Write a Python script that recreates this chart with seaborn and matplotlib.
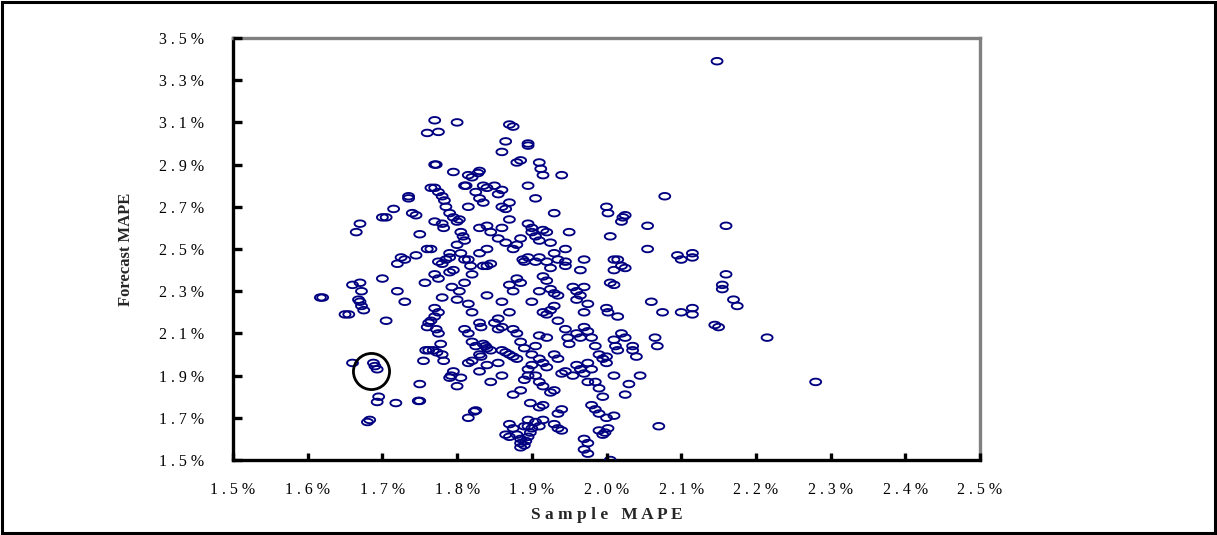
import numpy as np
import pandas as pd
import matplotlib
matplotlib.use("Agg")
import matplotlib.pyplot as plt
from matplotlib.path import Path
from matplotlib.patches import Rectangle
import seaborn as sns

# Sample MAPE (%) vs. Forecast MAPE (%) for each model run
sample_mape = [
    1.617, 1.620, 1.650, 1.655, 1.660, 1.665, 1.670, 1.670, 1.668, 1.670, 1.672, 1.675, 1.672,
    1.660, 1.688, 1.690, 1.693, 1.695, 1.693, 1.680, 1.683,
    1.700, 1.705, 1.700, 1.705, 1.715, 1.720, 1.725, 1.730, 1.735, 1.735, 1.740, 1.745, 1.730,
    1.720, 1.718, 1.745, 1.750, 1.750, 1.748, 1.750,
    1.755, 1.758, 1.762, 1.768, 1.773, 1.760, 1.762, 1.765, 1.770, 1.772, 1.775, 1.778, 1.780,
    1.782, 1.770, 1.775, 1.780, 1.757, 1.760, 1.765, 1.770, 1.775, 1.775, 1.780, 1.785, 1.790,
    1.790, 1.782, 1.780, 1.770, 1.765, 1.770, 1.775, 1.780, 1.783, 1.785, 1.790, 1.795, 1.770,
    1.772, 1.770, 1.760, 1.775, 1.800, 1.795, 1.790, 1.795, 1.793, 1.792, 1.790, 1.795,
    1.800, 1.803, 1.805, 1.808, 1.810, 1.800, 1.805, 1.810, 1.815, 1.818, 1.820, 1.810, 1.800,
    1.803, 1.810, 1.812, 1.815, 1.820, 1.828, 1.830, 1.835, 1.840, 1.830, 1.835, 1.825, 1.815,
    1.830, 1.840, 1.845, 1.840, 1.830, 1.835, 1.840, 1.845, 1.820, 1.810, 1.815, 1.820, 1.825,
    1.830, 1.832, 1.835, 1.838, 1.840, 1.845, 1.830, 1.832, 1.815, 1.820, 1.840, 1.845, 1.830,
    1.815, 1.823, 1.825, 1.805, 1.800, 1.815, 1.840,
    1.860, 1.870, 1.875, 1.865, 1.880, 1.885, 1.895, 1.895, 1.895, 1.870, 1.860, 1.865, 1.855,
    1.860, 1.850, 1.870, 1.860, 1.855, 1.865, 1.875, 1.880, 1.885, 1.888, 1.890, 1.895, 1.900,
    1.895, 1.900, 1.880, 1.885, 1.875, 1.870, 1.860, 1.855, 1.850, 1.855, 1.860, 1.870, 1.875,
    1.880, 1.885, 1.890, 1.860, 1.865, 1.870, 1.875, 1.880, 1.855, 1.860, 1.875, 1.885, 1.890,
    1.895, 1.895, 1.900, 1.900, 1.870, 1.875, 1.880, 1.885, 1.885, 1.885, 1.890, 1.892, 1.895,
    1.898, 1.900, 1.895, 1.898, 1.870, 1.865, 1.895, 1.890,
    1.905, 1.910, 1.912, 1.915, 1.930, 1.940, 1.905, 1.910, 1.915, 1.920, 1.925, 1.910, 1.905,
    1.920, 1.925, 1.930, 1.935, 1.915, 1.920, 1.925, 1.930, 1.935, 1.910, 1.900, 1.915, 1.920,
    1.925, 1.930, 1.935, 1.945, 1.910, 1.920, 1.905, 1.910, 1.915, 1.920, 1.930, 1.935, 1.940,
    1.945, 1.905, 1.910, 1.915, 1.925, 1.930, 1.910, 1.915, 1.935, 1.940, 1.905, 1.910, 1.915,
    1.930, 1.935, 1.940, 1.945, 1.945, 1.950, 1.945, 1.950, 1.948,
    1.955, 1.960, 1.965, 1.970, 1.975, 1.970, 1.960, 1.965, 1.970, 1.975, 1.980, 1.985, 1.990,
    1.995, 1.960, 1.965, 1.970, 1.975, 1.980, 1.985, 1.990, 1.975, 1.980, 1.985, 1.990, 1.995,
    1.970, 1.975, 1.970, 1.975, 1.990, 1.995, 1.965, 1.970, 1.960, 1.955,
    2.000, 2.002, 2.005, 2.010, 2.010, 2.015, 2.005, 2.010, 2.020, 2.025, 2.020, 2.022, 2.025,
    2.000, 2.002, 2.015, 2.020, 2.025, 2.010, 2.012, 2.015, 2.035, 2.035, 2.040, 2.000, 2.010,
    2.030, 2.045, 2.025, 2.000, 2.010, 2.002, 1.998, 2.005, 2.000,
    2.055, 2.055, 2.060, 2.065, 2.068, 2.070, 2.075, 2.078, 2.095, 2.100, 2.100, 2.115, 2.115,
    2.115, 2.115, 2.145, 2.150, 2.155, 2.155, 2.160, 2.160, 2.170, 2.175, 2.215, 2.280, 2.148,
]
forecast_mape = [
    2.27, 2.27, 2.19, 2.19, 2.33, 2.58, 2.62, 2.34, 2.26, 2.25, 2.23, 2.21, 2.30,
    1.96, 1.96, 1.945, 1.93, 1.80, 1.775, 1.68, 1.69,
    2.36, 2.16, 2.65, 2.65, 2.69, 2.43, 2.46, 2.45, 2.75, 2.74, 2.67, 2.66, 2.25,
    2.30, 1.77, 2.47, 2.57, 1.86, 1.78, 1.78,
    1.97, 2.02, 2.02, 2.02, 2.01, 2.13, 2.15, 2.16, 2.18, 2.12, 2.10, 2.05, 2.00,
    1.97, 2.22, 2.20, 2.27, 2.34, 2.50, 2.50, 2.38, 2.36, 2.44, 2.43, 2.45, 2.48,
    2.46, 2.60, 2.62, 2.63, 2.79, 2.79, 2.77, 2.75, 2.73, 2.70, 2.67, 2.65, 2.90,
    2.90, 3.11, 3.05, 3.055, 3.10, 2.865, 2.39, 2.40, 2.32, 1.90, 1.89, 1.92,
    2.63, 2.64, 2.58, 2.56, 2.54, 2.52, 2.48, 2.45, 2.45, 2.42, 2.38, 2.34, 2.26,
    2.30, 2.80, 2.80, 2.85, 2.84, 2.86, 2.87, 2.80, 2.79, 2.74, 2.72, 2.77, 2.70,
    2.60, 2.61, 2.58, 2.50, 2.48, 2.42, 2.42, 2.43, 2.20, 2.12, 2.10, 2.06, 2.04,
    2.15, 2.13, 2.05, 2.04, 2.03, 2.02, 2.00, 1.99, 1.96, 1.97, 1.95, 1.87, 1.92,
    1.70, 1.73, 1.735, 1.89, 1.85, 2.24, 2.28,
    2.96, 3.09, 3.08, 3.01, 2.91, 2.92, 3.00, 2.99, 2.80, 2.72, 2.70, 2.69, 2.76,
    2.78, 2.80, 2.64, 2.60, 2.55, 2.53, 2.50, 2.52, 2.55, 2.45, 2.44, 2.46, 2.60,
    2.62, 2.58, 2.36, 2.34, 2.30, 2.33, 2.25, 2.17, 2.15, 2.12, 2.13, 2.20, 2.12,
    2.10, 2.06, 2.03, 2.02, 2.01, 2.00, 1.99, 1.98, 1.96, 1.90, 1.81, 1.83, 1.88,
    1.90, 1.93, 1.95, 2.00, 1.67, 1.65, 1.62, 1.60, 1.58, 1.56, 1.57, 1.59, 1.61,
    1.63, 1.65, 1.69, 1.77, 1.61, 1.62, 1.66, 1.66,
    2.74, 2.91, 2.88, 2.85, 2.67, 2.85, 2.56, 2.54, 2.59, 2.58, 2.53, 2.46, 2.44,
    2.44, 2.41, 2.48, 2.45, 2.37, 2.35, 2.31, 2.29, 2.28, 2.30, 2.25, 2.20, 2.19,
    2.21, 2.23, 2.16, 2.12, 2.09, 2.08, 2.04, 1.98, 1.96, 1.94, 2.00, 1.98, 1.91,
    1.92, 1.90, 1.87, 1.85, 1.82, 1.83, 1.75, 1.76, 1.72, 1.74, 1.68, 1.66, 1.69,
    1.67, 1.65, 1.64, 2.44, 2.50, 2.58, 2.42, 2.05, 2.08,
    2.32, 2.30, 2.28, 2.32, 2.24, 2.20, 2.10, 2.08, 2.13, 2.11, 2.08, 2.04, 2.00,
    1.98, 1.95, 1.93, 1.91, 1.96, 1.93, 1.87, 1.84, 1.87, 1.76, 1.74, 1.72, 1.80,
    1.60, 1.58, 1.55, 1.53, 1.64, 1.62, 2.40, 2.45, 2.26, 1.90,
    2.70, 2.67, 2.56, 2.45, 2.40, 2.45, 2.34, 2.33, 2.42, 2.41, 2.63, 2.65, 2.66,
    2.22, 2.20, 2.18, 2.10, 2.08, 2.07, 2.04, 2.02, 2.04, 2.02, 1.99, 1.99, 1.90,
    1.86, 1.90, 1.81, 1.70, 1.71, 1.65, 1.63, 1.50, 1.96,
    2.61, 2.50, 2.25, 2.08, 2.04, 1.66, 2.20, 2.75, 2.47, 2.45, 2.20, 2.48, 2.46,
    2.22, 2.19, 2.14, 2.13, 2.33, 2.31, 2.38, 2.61, 2.26, 2.23, 2.08, 1.87, 3.39,
]

# Highlighted run
highlight_x = [1.685]
highlight_y = [1.922]

x_ticks = [1.5, 1.6, 1.7, 1.8, 1.9, 2.0, 2.1, 2.2, 2.3, 2.4, 2.5]
y_ticks = [1.5, 1.7, 1.9, 2.1, 2.3, 2.5, 2.7, 2.9, 3.1, 3.3, 3.5]

df = pd.DataFrame({"Sample MAPE": sample_mape, "Forecast MAPE": forecast_mape})

sns.set_style("white")
plt.rcParams["font.family"] = ["Liberation Serif", "DejaVu Serif"]

fig = plt.figure(figsize=(12.17, 5.35), dpi=100)
ax = fig.add_axes([233 / 1217, 75 / 535, 747 / 1217, 422 / 535])

# Flattened ellipse marker
theta = np.linspace(0, 2 * np.pi, 60)
ellipse = Path(np.column_stack([np.cos(theta), 0.6 * np.sin(theta)]), closed=True)

sns.scatterplot(data=df, x="Sample MAPE", y="Forecast MAPE", ax=ax,
                marker=ellipse, s=62, facecolor="none", edgecolor="#000080",
                linewidth=1.35, legend=False, zorder=3)

ax.plot(highlight_x, highlight_y, marker="o", markersize=26, markerfacecolor="none",
        markeredgecolor="black", markeredgewidth=2.0, linestyle="none", zorder=4)

ax.set_xlim(1.5, 2.5)
ax.set_ylim(1.5, 3.5)
ax.set_xticks(x_ticks)
ax.set_yticks(y_ticks)


def spaced(v):
    return " ".join(f"{v:.1f}%")


ax.set_xticklabels([spaced(v) for v in x_ticks], fontsize=11.5)
ax.set_yticklabels([spaced(v) for v in y_ticks], fontsize=11.5)
ax.tick_params(axis="both", which="major", length=0, colors="black")
ax.tick_params(axis="y", pad=21)
ax.tick_params(axis="x", pad=16)

# Inward tick stubs drawn along the left and bottom axes at each tick value
ax.vlines(x_ticks, 0, 7 / 422, transform=ax.get_xaxis_transform(),
          colors="black", linewidth=2.4, clip_on=False, zorder=5)
ax.hlines(y_ticks, 0, 9 / 747, transform=ax.get_yaxis_transform(),
          colors="black", linewidth=2.4, clip_on=False, zorder=5)

for side in ("left", "bottom"):
    ax.spines[side].set_color("black")
    ax.spines[side].set_linewidth(2.4)
for side in ("top", "right"):
    ax.spines[side].set_color("#808080")
    ax.spines[side].set_linewidth(2.4)
ax.grid(False)

ax.set_xlabel(" ".join("Sample") + "   " + " ".join("MAPE"), fontsize=12.5,
              fontweight="bold", labelpad=6)
ax.set_ylabel("Forecast MAPE", fontsize=12, fontweight="bold", labelpad=18)

# Outer frame of the figure
fig.patches.append(Rectangle((2 / 1217, 2 / 535), 1 - 4 / 1217, 1 - 4 / 535,
                             transform=fig.transFigure, fill=False,
                             edgecolor="black", linewidth=2.2))

fig.savefig("out.png", dpi=100)
